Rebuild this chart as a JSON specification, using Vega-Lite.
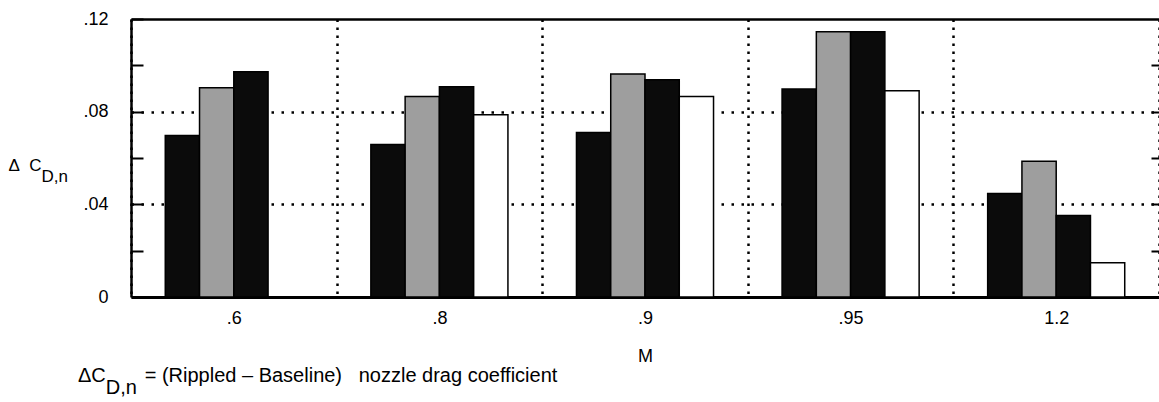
{
  "$schema": "https://vega.github.io/schema/vega-lite/v6.json",
  "autosize": {"type": "none"},
  "padding": {"left": 131, "top": 19, "right": 0, "bottom": 105},
  "width": 1028,
  "height": 278,
  "background": "white",
  "config": {"view": {"stroke": null}, "font": "Liberation Sans"},
  "title": {
    "text": ["ΔC\u00a0\u00a0\u00a0\u00a0\u00a0\u00a0 = (Rippled – Baseline)\u00a0\u00a0 nozzle drag coefficient", "\u200b\u00a0\u00a0\u00a0\u00a0\u00a0D,n"],
    "orient": "bottom",
    "anchor": "start",
    "frame": "group",
    "dx": -53,
    "offset": 17,
    "baseline": "alphabetic",
    "font": "Liberation Sans",
    "fontSize": 20,
    "fontWeight": "normal",
    "lineHeight": 12,
    "color": "black"
  },
  "data": {
    "values": [
      {"M": ".6", "config": "A", "dCDn": 0.0697},
      {"M": ".6", "config": "B", "dCDn": 0.0903},
      {"M": ".6", "config": "C", "dCDn": 0.0972},
      {"M": ".8", "config": "A", "dCDn": 0.0658},
      {"M": ".8", "config": "B", "dCDn": 0.0865},
      {"M": ".8", "config": "C", "dCDn": 0.0908},
      {"M": ".8", "config": "D", "dCDn": 0.0787},
      {"M": ".9", "config": "A", "dCDn": 0.0710},
      {"M": ".9", "config": "B", "dCDn": 0.0963},
      {"M": ".9", "config": "C", "dCDn": 0.0938},
      {"M": ".9", "config": "D", "dCDn": 0.0865},
      {"M": ".95", "config": "A", "dCDn": 0.0898},
      {"M": ".95", "config": "B", "dCDn": 0.1145},
      {"M": ".95", "config": "C", "dCDn": 0.1145},
      {"M": ".95", "config": "D", "dCDn": 0.0890},
      {"M": "1.2", "config": "A", "dCDn": 0.0447},
      {"M": "1.2", "config": "B", "dCDn": 0.0586},
      {"M": "1.2", "config": "C", "dCDn": 0.0352},
      {"M": "1.2", "config": "D", "dCDn": 0.0148}
    ]
  },
  "layer": [
    {
      "mark": {"type": "bar", "stroke": "black", "strokeWidth": 1.5},
      "encoding": {
        "x": {
          "field": "M", "type": "nominal",
          "sort": [".6", ".8", ".9", ".95", "1.2"],
          "scale": {"paddingInner": 0, "paddingOuter": 0},
          "axis": {
            "orient": "bottom",
            "title": "M",
            "titleFont": "Liberation Sans",
            "titleFontSize": 18,
            "titleFontWeight": "normal",
            "titleColor": "black",
            "titleX": 514,
            "titleY": 64,
            "titleAlign": "center",
            "titleBaseline": "alphabetic",
            "labelAngle": 0,
            "labelFont": "Liberation Sans",
            "labelFontSize": 18,
            "labelColor": "black",
            "labelPadding": 12,
            "ticks": false,
            "tickBand": "extent",
            "domain": true,
            "domainColor": "black",
            "domainWidth": 3,
            "grid": true,
            "gridColor": "black",
            "gridDash": [2.5, 5.5],
            "gridWidth": 2.5
          }
        },
        "xOffset": {
          "field": "config", "type": "nominal",
          "sort": ["A", "B", "C", "D"],
          "scale": {"paddingInner": 0, "paddingOuter": 2.2}
        },
        "y": {
          "field": "dCDn", "type": "quantitative",
          "scale": {"domain": [0, 0.12], "nice": false},
          "axis": {
            "orient": "left",
            "values": [0, 0.02, 0.04, 0.06, 0.08, 0.1, 0.12],
            "labelExpr": "datum.value == 0 ? '0' : (round(datum.value*100) % 4 == 0 ? replace(format(datum.value, '.2f'), '0.', '.') : '')",
            "labelFont": "Liberation Sans",
            "labelFontSize": 18,
            "labelColor": "black",
            "labelPadding": 35,
            "tickSize": -12,
            "tickWidth": 2,
            "tickColor": "black",
            "domain": true,
            "domainColor": "black",
            "domainWidth": 2.5,
            "grid": true,
            "gridColor": "black",
            "gridDash": [2.5, 7.5],
            "gridWidth": 2.5,
            "gridOpacity": {"condition": {"test": "round(datum.value*100) == 4 || round(datum.value*100) == 8", "value": 1}, "value": 0},
            "title": ["Δ\u00a0\u00a0C", "\u200b\u00a0\u00a0\u00a0\u00a0\u00a0\u00a0\u00a0D,n"],
            "titleAngle": 0,
            "titleAlign": "left",
            "titleBaseline": "alphabetic",
            "titleX": -123,
            "titleY": 151,
            "titleFont": "Liberation Sans",
            "titleFontSize": 17,
            "titleFontWeight": "normal",
            "titleLineHeight": 11,
            "titleColor": "black"
          }
        },
        "fill": {
          "field": "config", "type": "nominal",
          "scale": {"domain": ["A", "B", "C", "D"], "range": ["#0b0b0b", "#9e9e9e", "#0b0b0b", "#ffffff"]},
          "legend": null
        }
      }
    },
    {
      "mark": {"type": "bar", "opacity": 0},
      "encoding": {
        "x": {
          "field": "M", "type": "nominal",
          "sort": [".6", ".8", ".9", ".95", "1.2"],
          "axis": {"orient": "top", "labels": false, "ticks": false, "grid": false, "title": null, "domain": true, "domainColor": "black", "domainWidth": 2.5}
        },
        "xOffset": {"field": "config", "type": "nominal", "sort": ["A", "B", "C", "D"]},
        "y": {
          "field": "dCDn", "type": "quantitative",
          "axis": {"orient": "right", "values": [0.02, 0.04, 0.06, 0.08, 0.1], "labels": false, "domain": false, "grid": false, "title": null, "tickSize": -8, "tickWidth": 2, "tickColor": "black"}
        }
      }
    }
  ],
  "resolve": {"axis": {"x": "independent", "y": "independent"}}
}
